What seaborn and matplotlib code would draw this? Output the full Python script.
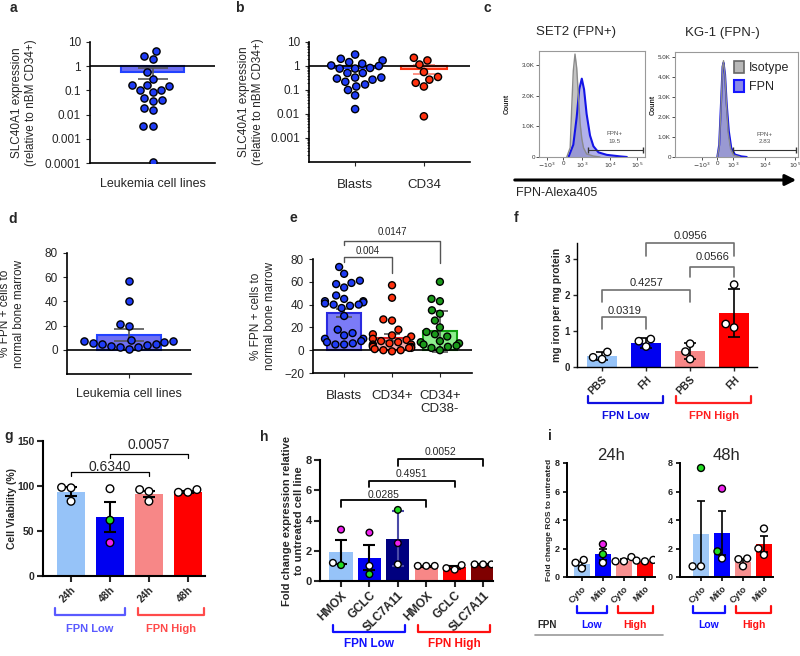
import numpy as np
import pandas as pd
import seaborn as sns
import matplotlib.pyplot as plt
import matplotlib.transforms as mtransforms
from matplotlib.patches import Patch, FancyArrowPatch

# ---- values ----
# a: SLC40A1 in leukemia cell lines (relative to nBM CD34+)
a_vals = [4.2, 1.95, 2.6, 0.57, 0.31, 0.17, 0.10, 0.145, 0.088, 0.16, 0.10,
          0.038, 0.048, 0.041, 0.016, 0.019, 0.0035, 0.0035, 0.00011]
a_mean, a_sem = 0.55, 0.26
log_ticks = [1e-4, 1e-3, 1e-2, 1e-1, 1, 10]
log_labels = ['0.0001', '0.001', '0.01', '0.1', '1', '10']

# b: patient blasts / CD34
b_cats = ['Blasts', 'CD34']
b_blasts = [3.0, 1.7, 2.0, 1.45, 1.25, 1.0, 0.78, 0.78, 0.83, 1.05, 0.51, 0.51,
            0.33, 0.3, 0.33, 0.27, 0.22, 0.17, 0.14, 0.1, 0.06, 0.016]
b_cd34 = [2.2, 1.7, 1.15, 0.56, 0.35, 0.27, 0.2, 0.14, 0.008]
b_means = [0.82, 0.78]
b_sem = [0.2, 0.3]

# c: flow histograms, x in display units of the biexponential axis
c_xtl = [r'$-10^3$', '0', r'$10^3$', r'$10^4$', r'$10^5$']
set2_xt = [-0.59, 0, 0.65, 1.65, 2.59]
kg1_xt = [-0.51, 0, 0.52, 1.54, 2.51]
set2_iso_x = [0.12, 0.24, 0.29, 0.35, 0.41, 0.47, 0.53, 0.59, 0.65, 0.71, 0.82, 1.06, 1.29]
set2_iso_y = [0, 300, 1500, 2800, 3350, 2900, 2000, 1100, 600, 300, 100, 30, 0]
set2_fpn_x = [0.18, 0.35, 0.47, 0.56, 0.65, 0.73, 0.82, 0.94, 1.06, 1.24, 1.53, 2.0, 2.24]
set2_fpn_y = [0, 400, 1300, 2200, 2550, 2200, 1400, 700, 350, 150, 70, 20, 0]
kg1_iso_x = [0, 0.06, 0.12, 0.17, 0.2, 0.25, 0.3, 0.35, 0.43, 0.52, 0.73]
kg1_iso_y = [0, 500, 2500, 4500, 4800, 4000, 2500, 1200, 400, 100, 0]
kg1_fpn_x = [0, 0.06, 0.12, 0.17, 0.2, 0.25, 0.3, 0.37, 0.45, 0.57, 0.78, 0.95]
kg1_fpn_y = [0, 600, 2700, 4500, 4700, 4100, 2700, 1300, 450, 120, 30, 0]
set2_gate = '19.5'
kg1_gate = '2.83'

# d: % FPN+ cells, cell lines
d_vals = [56.5, 40, 21, 19.5, 8, 7, 6.5, 5, 3.5, 2.5, 2.5, 1, 4, 5, 6, 7]
d_mean, d_sem = 12.2, 4.6

# e: % FPN+ cells, patient samples
e_cats = ['Blasts', 'CD34+', 'CD34+\nCD38-']
e_blasts = [73, 67, 61, 59, 58, 55, 48, 45, 43, 43, 42, 41, 40, 40, 39, 37, 30,
            18, 15, 13, 10, 10, 8, 7, 6, 5, 5]
e_cd34 = [57, 46, 27, 26, 18, 14, 13, 12, 10, 9, 8, 7, 6, 5, 5, 4, 3, 3, 2, 2,
          1, 0, -1, 0]
e_cd38 = [60, 45, 43, 35, 32, 26, 20, 16, 14, 12, 8, 7, 6, 5, 4, 3, 2, 0]
e_means = [32.5, 11, 16.5]
e_err_lo = [29, 8, -1.5]
e_err_hi = [36, 14, 34.5]
e_pvals = ['0.004', '0.0147']

# f: iron content
f_ticks = ['PBS', 'FH', 'PBS', 'FH']
f_means = [0.31, 0.66, 0.44, 1.52]
f_sd = [0.11, 0.14, 0.22, 0.67]
f_pts = [[0.42, 0.22, 0.27], [0.78, 0.72, 0.57], [0.65, 0.43, 0.22], [2.3, 1.2, 1.1]]
f_pcol = ['www', 'www', 'www', 'www']
f_pvals = ['0.0319', '0.4257', '0.0566', '0.0956']

# g: viability
g_ticks = ['24h', '48h', '24h', '48h']
g_means = [93.5, 65.5, 91, 93.5]
g_sem = [5, 17, 3.5, 1]
g_pts = [[98.5, 98, 83], [97, 62, 37], [96, 94, 83], [96, 93, 93]]
g_pcol = ['www', 'wgm', 'www', 'www']
g_pvals = ['0.6340', '0.0057']

# h: gene expression
h_ticks = ['HMOX', 'GCLC', 'SLC7A11', 'HMOX', 'GCLC', 'SLC7A11']
h_means = [1.9, 1.55, 2.8, 0.95, 0.9, 1.1]
h_sd = [0.8, 0.85, 1.8, 0.03, 0.12, 0.05]
h_pts = [[3.4, 1.05, 1.2], [3.2, 1.0, 0.45], [4.7, 2.5, 1.1],
         [1.0, 1.0, 1.0], [1.05, 0.75, 0.85], [1.1, 1.1, 1.1]]
h_pcol = ['mgw', 'mwg', 'gmw', 'www', 'www', 'www']
h_pvals = ['0.0285', '0.4951', '0.0052']

# i: ROS
i_ticks = ['Cyto', 'Mito', 'Cyto', 'Mito']
i24_means = [0.9, 1.6, 1.15, 1.1]
i24_sem = [0.15, 0.4, 0.1, 0.05]
i24_pts = [[1.2, 1.0, 0.6], [2.3, 1.6, 1.0], [1.4, 1.1, 1.1], [1.2, 1.15, 1.1]]
i24_pcol = ['www', 'mgw', 'www', 'www']
i48_means = [3.05, 3.1, 1.05, 2.3]
i48_sem = [2.3, 1.55, 0.2, 0.55]
i48_pts = [[7.65, 0.75, 0.75], [6.2, 1.8, 1.3], [1.3, 1.25, 0.75], [3.4, 2.0, 1.55]]
i48_pcol = ['gww', 'mgw', 'www', 'www']

LB, BL, LR, RD = '#96c3f8', '#0000f0', '#f78787', '#ff0000'
PAL = {'w': 'white', 'g': '#22dd22', 'm': '#ee22ee'}

sns.set_style('ticks')
plt.rcParams['font.family'] = ['Liberation Sans', 'DejaVu Sans']
plt.rcParams['axes.linewidth'] = 1.2
plt.rcParams['axes.edgecolor'] = 'black'

W, H = 800, 656
fig = plt.figure(figsize=(8, 6.56), dpi=100)


def box(x0, y0, x1, y1):
    return fig.add_axes([x0 / W, 1 - y1 / H, (x1 - x0) / W, (y1 - y0) / H])


def ylab(ax, text, right_px, fs, bold=False):
    ax.set_ylabel(text, fontsize=fs, fontweight='bold' if bold else 'normal')
    bb = ax.get_position()
    ax.yaxis.set_label_coords((right_px / W - bb.x0) / bb.width, 0.5)


def bracket(ax, x1, x2, y, y1, y2, txt, ty, fs, color='#555555', lw=1.0):
    ax.plot([x1, x1, x2, x2], [y1, y, y, y2], color=color, lw=lw, clip_on=False)
    ax.text((x1 + x2) / 2, ty, txt, ha='center', va='center', fontsize=fs, clip_on=False)


def group(ax, x1, x2, ypx, label, lpx, color, fs):
    tr = mtransforms.blended_transform_factory(ax.transData, fig.transFigure)
    y, yl = 1 - ypx / H, 1 - (ypx - 7) / H
    ax.plot([x1, x1, x2, x2], [yl, y, y, yl], color=color, lw=1.6, transform=tr, clip_on=False)
    ax.text((x1 + x2) / 2, 1 - lpx / H, label, transform=tr, color=color,
            ha='center', va='center', fontsize=fs, fontweight='bold')


def bar_dots(ax, ticks, means, errs, colors, pts, pcol, width, psize, xlim, ylim, yticks,
             ecolors=None, elw=1.3, cap=3, tfs=7, yfs=7, slw=1.5, tlen=4):
    cats = [f'{t}{k}' for k, t in enumerate(ticks)]
    sns.barplot(x=cats, y=means, hue=cats, hue_order=cats, order=cats, palette=colors,
                width=width, saturation=1, errorbar=None, legend=False, linewidth=0, ax=ax)
    ecolors = ecolors or ['k'] * len(cats)
    for k, m in enumerate(means):
        ax.errorbar(k, m, yerr=errs[k], fmt='none', ecolor=ecolors[k], elinewidth=elw,
                    capsize=cap, capthick=elw, zorder=3)
    df = pd.DataFrame({'cat': np.repeat(cats, [len(p) for p in pts]),
                       'val': np.concatenate(pts),
                       'col': list(''.join(pcol))})
    sns.swarmplot(data=df, x='cat', y='val', hue='col', palette=PAL, order=cats,
                  size=psize, edgecolor='k', linewidth=1, legend=False, ax=ax, zorder=4)
    ax.set_xlim(xlim)
    ax.set_ylim(ylim)
    ax.set_xlabel('')
    ax.set_ylabel('')
    ax.tick_params(length=tlen, width=slw, pad=2)
    ax.tick_params(axis='y', labelsize=yfs)
    ax.tick_params(axis='x', labelsize=tfs)
    ax.set_yticks(yticks, [str(v) for v in yticks], fontweight='bold', fontsize=yfs)
    ax.set_xticks(range(len(cats)), ticks, rotation=45, ha='right', rotation_mode='anchor',
                  fontweight='bold', fontsize=tfs)
    for s in ax.spines.values():
        s.set_linewidth(slw)
    sns.despine(ax=ax)


# ---------- a ----------
ax = box(90, 42, 215, 163)
ax.set_yscale('log')
sns.swarmplot(x=['Leukemia cell lines'] * len(a_vals), y=a_vals, color='#1f3cf5',
              edgecolor='k', linewidth=1, size=5.2, ax=ax, zorder=4)
ax.bar([0], [a_mean - 1], bottom=1, width=0.5, color='#6f6ff2', edgecolor='#2342ff', lw=1.5, zorder=1)
ax.errorbar([0], [a_mean], yerr=a_sem, fmt='none', ecolor='#555555', elinewidth=1.2,
            capsize=11, capthick=1.2, zorder=3)
ax.axhline(1, color='k', lw=1.2, zorder=3)
ax.set_ylim(1e-4, 10)
ax.set_xlim(-0.5, 0.5)
ax.set_yticks(log_ticks, log_labels)
ax.minorticks_off()
ax.tick_params(axis='y', labelsize=8.5, length=3)
ax.tick_params(axis='x', labelsize=9, length=0, pad=11)
ylab(ax, 'SLC40A1 expression\n(relative to nBM CD34+)', 37, 8.5)
sns.despine(ax=ax)

# ---------- b ----------
ax = box(309, 42, 470, 162)
ax.set_yscale('log')
b_df = pd.DataFrame({'grp': ['Blasts'] * len(b_blasts) + ['CD34'] * len(b_cd34),
                     'val': b_blasts + b_cd34})
sns.swarmplot(data=b_df, x='grp', y='val', hue='grp', palette=['#1f3cf5', '#ff3210'],
              order=b_cats, edgecolor='k', linewidth=1, size=5.2, legend=False, ax=ax, zorder=4)
ax.bar(range(2), np.array(b_means) - 1, bottom=1, width=0.67, color=['#6f7ff5', '#ffb3a8'],
       edgecolor=['#2342ff', '#ff3210'], lw=1.5, zorder=1)
for k, c in enumerate(['#666666', '#ff8070']):
    ax.errorbar(k, b_means[k], yerr=b_sem[k], fmt='none', ecolor=c, elinewidth=1.2,
                capsize=8, capthick=1.2, zorder=3)
ax.axhline(1, color='k', lw=1.2, zorder=3)
ax.set_ylim(1e-4, 10)
ax.set_xlim(-0.67, 1.67)
ax.set_yticks(log_ticks[1:], log_labels[1:])
ax.tick_params(axis='y', which='major', labelsize=8.5, length=3)
ax.tick_params(axis='y', which='minor', length=1.8)
ax.tick_params(axis='x', labelsize=9.5, length=3, pad=9)
ax.set_xlabel('')
ax.set_ylabel('')
ylab(ax, 'SLC40A1 expression\n(relative to nBM CD34+)', 264, 8.5)
sns.despine(ax=ax)

# ---------- c ----------
for (x0, y0, x1, y1), xt, xl, ymax, yt, ix, iy, fx, fy, gate, glab, gy, cnt in [
        ((539, 51, 645, 157), set2_xt, (-0.86, 2.88), 3450, [0, 1000, 2000, 3000],
         set2_iso_x, set2_iso_y, set2_fpn_x, set2_fpn_y, (0.88, 2.82, 230), (1.82, set2_gate), (750, 500), 511),
        ((675, 52, 798, 157), kg1_xt, (-1.37, 2.61), 5230, [0, 1000, 2000, 3000, 4000, 5000],
         kg1_iso_x, kg1_iso_y, kg1_fpn_x, kg1_fpn_y, (0.52, 2.56, 350), (1.54, kg1_gate), (1130, 770), 657)]:
    ax = box(x0, y0, x1, y1)
    ax.fill_between(ix, iy, color='#c4c4c4', lw=0, zorder=1)
    ax.plot(ix, iy, color='#8a8a8a', lw=1, zorder=3)
    ax.fill_between(fx, fy, color='#7d7ddc', alpha=0.6, lw=0, zorder=2)
    ax.plot(fx, fy, color='#1414e6', lw=1.5, zorder=2)
    ax.plot(gate[:2], [gate[2]] * 2, color='#333333', lw=0.8, marker='|', ms=4)
    ax.text(glab[0], gy[0], 'FPN+', ha='center', va='center', fontsize=4.5, color='#555555')
    ax.text(glab[0], gy[1], glab[1], ha='center', va='center', fontsize=4.5, color='#555555')
    ax.set_xlim(xl)
    ax.set_ylim(0, ymax)
    ax.set_xticks(xt, c_xtl)
    ax.set_yticks(yt, ['0'] + [f'{v / 1000:.1f}K' for v in yt[1:]])
    ax.tick_params(labelsize=4.5, length=2, width=0.6, colors='#333333', pad=1)
    for s in ax.spines.values():
        s.set_color('#999999')
        s.set_linewidth(0.8)
    ax.set_ylabel('Count', fontsize=5, fontweight='bold')
    bb = ax.get_position()
    ax.yaxis.set_label_coords((cnt / W - bb.x0) / bb.width, 0.5)
    if x0 < 600:
        ax.text(-0.03, 1.12, 'SET2 (FPN+)', transform=ax.transAxes, fontsize=9.5, va='bottom')
    else:
        ax.text(0.08, 1.12, 'KG-1 (FPN-)', transform=ax.transAxes, fontsize=9.5, va='bottom')
        ax.legend(handles=[Patch(facecolor='#b8b8b8', edgecolor='#666666', lw=1.2, label='Isotype'),
                           Patch(facecolor='#8a8ae6', edgecolor='#1515ff', lw=1.5, label='FPN')],
                  loc='upper right', frameon=False, fontsize=9, handlelength=0.8,
                  handleheight=1.1, handletextpad=0.4, borderaxespad=0.3, labelspacing=0.5)
fig.add_artist(FancyArrowPatch((512 / W, 1 - 180 / H), (799 / W, 1 - 180 / H),
                               transform=fig.transFigure, arrowstyle='-|>',
                               mutation_scale=16, lw=2.2, color='k'))
fig.text(516 / W, 1 - 193 / H, 'FPN-Alexa405', fontsize=9, va='center')

# ---------- d ----------
ax = box(67, 253, 191, 374)
sns.barplot(x=['Leukemia cell lines'], y=[d_mean], color='#6f6ff2', width=0.52,
            saturation=1, edgecolor='#2342ff', linewidth=1.5, errorbar=None, ax=ax)
ax.errorbar(0, d_mean, yerr=d_sem, fmt='none', ecolor='#555555', elinewidth=1.2,
            capsize=11, capthick=1.2, zorder=3)
sns.swarmplot(x=['Leukemia cell lines'] * len(d_vals), y=d_vals, color='#1f3cf5',
              edgecolor='k', linewidth=1, size=5.2, ax=ax, zorder=4)
ax.axhline(0, color='k', lw=1.2, zorder=3)
ax.set_ylim(-20, 80)
ax.set_xlim(-0.5, 0.5)
ax.set_yticks([0, 20, 40, 60, 80])
ax.tick_params(axis='y', labelsize=8.5, length=3)
ax.tick_params(axis='x', labelsize=9, length=3, pad=7)
ylab(ax, '% FPN + cells to\nnormal bone marrow', 25, 8.5)
sns.despine(ax=ax)

# ---------- e ----------
ax = box(313, 259, 472, 373)
sns.barplot(x=e_cats, y=e_means, hue=e_cats, hue_order=e_cats, order=e_cats,
            palette=['#7b7bf7', '#f7a6a6', '#8ef08e'], width=0.7, saturation=1,
            linewidth=1.5, errorbar=None, legend=False, ax=ax)
for p, ec in zip(ax.patches, ['#2a2ae0', '#e02020', '#10a010']):
    p.set_edgecolor(ec)
e_mid = np.array(e_means)
ax.errorbar(range(3), e_mid, yerr=[e_mid - np.array(e_err_lo), np.array(e_err_hi) - e_mid],
            fmt='none', ecolor='#555555', elinewidth=1.2, capsize=6, capthick=1.2, zorder=3)
e_df = pd.DataFrame({'grp': [e_cats[0]] * len(e_blasts) + [e_cats[1]] * len(e_cd34) + [e_cats[2]] * len(e_cd38),
                     'val': e_blasts + e_cd34 + e_cd38})
sns.swarmplot(data=e_df, x='grp', y='val', hue='grp', order=e_cats, hue_order=e_cats,
              palette=['#1f3cf5', '#ff3210', '#1a9a1a'], edgecolor='k', linewidth=1,
              size=5, legend=False, ax=ax, zorder=4)
ax.axhline(0, color='k', lw=1.2, zorder=3)
ax.set_ylim(-20, 80)
ax.set_xlim(-0.65, 2.67)
ax.set_yticks([-20, 0, 20, 40, 60, 80])
ax.tick_params(axis='y', labelsize=8.5, length=3)
ax.tick_params(axis='x', labelsize=9.5, length=3, pad=9)
ax.set_xlabel('')
ylab(ax, '% FPN + cells to\nnormal bone marrow', 276, 8.5)
bracket(ax, 0, 1, 81.8, 77, 67.6, e_pvals[0], 86.8, 7)
bracket(ax, 0, 2, 95.5, 92, 76.5, e_pvals[1], 104, 7)
sns.despine(ax=ax)

# ---------- f ----------
ax = box(577, 243, 757, 367)
bar_dots(ax, f_ticks, f_means, f_sd, [LB, BL, LR, RD], f_pts, f_pcol, 0.68, 5.3,
         (-0.57, 3.52), (0, 3.46), [0, 1, 2, 3], elw=1.2, cap=4.5, tfs=7.5, yfs=7,
         slw=1.0, tlen=3)
ylab(ax, 'mg iron per mg protein', 562, 7.5, bold=True)
bracket(ax, 0, 1, 1.4, 1.05, 1.05, f_pvals[0], 1.57, 8, '#707070', 1.2)
bracket(ax, 0, 2, 2.15, 1.8, 1.8, f_pvals[1], 2.34, 8, '#707070', 1.2)
bracket(ax, 2, 3, 2.8, 2.5, 2.5, f_pvals[2], 3.06, 8, '#707070', 1.2)
bracket(ax, 1, 3, 3.46, 3.1, 3.1, f_pvals[3], 3.66, 8, '#707070', 1.2)
group(ax, -0.32, 1.39, 403, 'FPN Low', 416, '#1010e0', 8)
group(ax, 1.68, 3.39, 403, 'FPN High', 416, '#ff2020', 8)

# ---------- g ----------
ax = box(43, 441, 205, 576)
bar_dots(ax, g_ticks, g_means, g_sem, [LB, BL, LR, RD], g_pts, g_pcol, 0.71, 5.5,
         (-0.72, 3.44), (0, 150), [0, 50, 100, 150], elw=1.5, cap=4.5, tfs=7.5, yfs=7.5)
ylab(ax, 'Cell Viability (%)', 17, 7.5, bold=True)
bracket(ax, 0, 2, 116, 111, 111, g_pvals[0], 121.5, 10, 'k', 0.9)
bracket(ax, 1, 3, 136, 131, 131, g_pvals[1], 145.5, 10, 'k', 0.9)
group(ax, -0.41, 1.38, 615, 'FPN Low', 629, '#5a5aff', 8)
group(ax, 1.72, 3.41, 615, 'FPN High', 629, '#ff4a4a', 8)

# ---------- h ----------
ax = box(320, 460, 493, 581)
bar_dots(ax, h_ticks, h_means, h_sd, [LB, BL, '#00007f', LR, RD, '#7f0000'], h_pts, h_pcol,
         0.82, 4.8, (-0.74, 5.35), (0, 8), [0, 2, 4, 6, 8],
         ecolors=['k', 'k', '#4b4ba8', 'k', 'k', 'k'], elw=1.5, cap=4, tfs=8.5, yfs=8)
ylab(ax, 'Fold change expression relative\nto untreated cell line', 304, 8, bold=True)
bracket(ax, 0, 3, 5.35, 4.87, 4.87, h_pvals[0], 5.68, 7.5, 'k', 1.3)
bracket(ax, 1, 4, 6.63, 6.23, 6.23, h_pvals[1], 7.07, 7.5, 'k', 1.3)
bracket(ax, 2, 5, 8.06, 7.62, 7.62, h_pvals[2], 8.5, 7.5, 'k', 1.3)
group(ax, -0.28, 2.25, 632, 'FPN Low', 644, '#1010ff', 8.5)
group(ax, 2.71, 5.25, 632, 'FPN High', 644, '#ff1010', 8.5)

# ---------- i ----------
i_colors = ['#9fc8f7', '#0000ff', '#f79090', '#ff0000']
for (x0, x1, xl, title, means, errs, pts, pcol, lo, hi) in [
        (567, 655, (-0.71, 3.48), '24h', i24_means, i24_sem, i24_pts, i24_pcol, (-0.24, 1.19), (1.71, 3.38)),
        (680, 773, (-1.0, 3.43), '48h', i48_means, i48_sem, i48_pts, i48_pcol, (-0.38, 1.14), (1.67, 3.33))]:
    ax = box(x0, 463, x1, 577)
    bar_dots(ax, i_ticks, means, errs, i_colors, pts, pcol, 0.8, 5, xl, (0, 8), [0, 2, 4, 6, 8],
             elw=1.2, cap=3, tfs=6.5, yfs=6.5, slw=1.4, tlen=3)
    ax.set_title(title, fontsize=12, pad=2)
    group(ax, lo[0], lo[1], 613, 'Low', 625, '#1010ff', 7.5)
    group(ax, hi[0], hi[1], 613, 'High', 625, '#ff1010', 7.5)
    if x0 < 600:
        ylab(ax, 'Fold change ROS to untreated', 553, 6, bold=True)
fig.text(537 / W, 1 - 625 / H, 'FPN', fontsize=7, fontweight='bold', va='center')
fig.add_artist(plt.Line2D([535 / W, 663 / W], [1 - 635 / H] * 2, color='#999999', lw=1.2))

# panel letters
for letter, x, y in [('a', 13, 8), ('b', 239, 8), ('c', 487, 8), ('d', 13, 219),
                     ('e', 293, 218), ('f', 516, 218), ('g', 9, 436), ('h', 264, 437),
                     ('i', 550, 436)]:
    fig.text(x / W, 1 - y / H, letter, fontsize=10, fontweight='bold', ha='center', va='center')

fig.savefig('out.png', dpi=100, facecolor='white')
